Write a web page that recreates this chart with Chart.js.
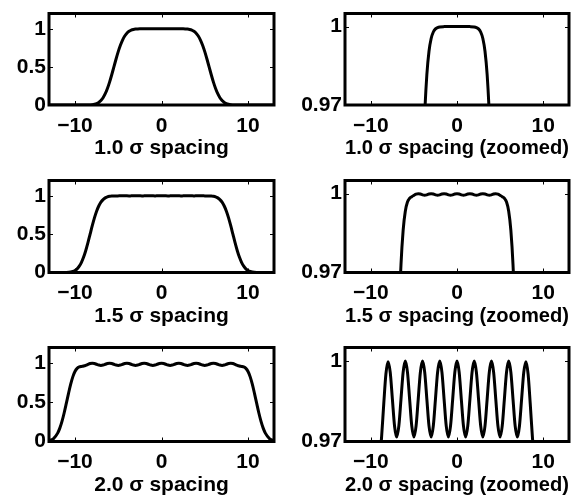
<!DOCTYPE html>
<html>
<head>
<meta charset="utf-8">
<script src="https://cdn.jsdelivr.net/npm/chart.js@4/dist/chart.umd.min.js"></script>
<style>
  html, body { margin: 0; padding: 0; background: #fff; }
  #wrap { position: relative; width: 579px; height: 498px; overflow: hidden; background: #fff; }
  #wrap canvas { position: absolute; }
</style>
</head>
<body>
<div id="wrap"></div>
<script>
// Sums of equal Gaussians placed 1.0, 1.5 and 2.0 sigma apart (peak scaled to 1),
// each shown in full (left) and with the plateau magnified (right).

const spacingTitles = ['1.0 \u03c3 spacing', '1.5 \u03c3 spacing', '2.0 \u03c3 spacing'];
const zoomSuffix = ' (zoomed)';

const xTicks = [-10, 0, 10];
const fullYTicks = [0, 0.5, 1];
const zoomYTicks = [0.97, 1];

// 1.0 sigma spacing
const spacing10X = [-13, -12, -11, -10, -9.5, -9, -8.5, -8, -7.75, -7.5, -7.25, -7, -6.75, -6.5, -6.25, -6,
  -5.75, -5.5, -5.25, -5, -4.75, -4.5, -4.25, -4, -3.75, -3.5, -3.25, -3, -2.75, -2.5, -2.25, -2, -1.5, -1, 0,
  1, 1.5, 2, 2.25, 2.5, 2.75, 3, 3.25, 3.5, 3.75, 4, 4.25, 4.5, 4.75, 5, 5.25, 5.5, 5.75, 6, 6.25, 6.5, 6.75,
  7, 7.25, 7.5, 7.75, 8, 8.5, 9, 9.5, 10, 11, 12, 13];
const spacing10Y = [0, 0, 0, 0, 0.00002, 0.00014, 0.00089, 0.00457, 0.00945, 0.01842, 0.03382, 0.05856, 0.09573,
  0.14793, 0.21647, 0.30053, 0.39687, 0.5, 0.60313, 0.69947, 0.78353, 0.85207, 0.90427, 0.94144, 0.96618, 0.98158,
  0.99055, 0.99543, 0.99792, 0.99911, 0.99964, 0.99986, 0.99998, 1, 1,
  1, 0.99998, 0.99986, 0.99964, 0.99911, 0.99792, 0.99543, 0.99055, 0.98158, 0.96618, 0.94144, 0.90427, 0.85207,
  0.78353, 0.69947, 0.60313, 0.5, 0.39687, 0.30053, 0.21647, 0.14793, 0.09573, 0.05856, 0.03382, 0.01842, 0.00945,
  0.00457, 0.00089, 0.00014, 0.00002, 0, 0, 0, 0];

// 1.5 sigma spacing
const spacing15X = [-13, -12, -11.5, -11, -10.5, -10.25, -10, -9.75, -9.5, -9.25, -9, -8.75, -8.5, -8.25, -8,
  -7.75, -7.5, -7.25, -7, -6.75, -6.5, -6.25, -6, -5.75, -5.5, -5.25, -5, -4.75, -4.5, -4.25, -4, -3.75, -3.5,
  -3.25, -3, -2.75, -2.5, -2.25, -2, -1.75, -1.5, -1.25, -1, -0.75, -0.5, -0.25,
  0, 0.25, 0.5, 0.75, 1, 1.25, 1.5, 1.75, 2, 2.25, 2.5, 2.75, 3, 3.25, 3.5, 3.75, 4, 4.25, 4.5, 4.75, 5, 5.25,
  5.5, 5.75, 6, 6.25, 6.5, 6.75, 7, 7.25, 7.5, 7.75, 8, 8.25, 8.5, 8.75, 9, 9.25, 9.5, 9.75, 10, 10.25, 10.5,
  11, 11.5, 12, 13];
const spacing15Y = [0, 0.00002, 0.0002, 0.00131, 0.00667, 0.01371, 0.02649, 0.04812, 0.08227, 0.13243, 0.20089,
  0.2876, 0.38933, 0.49969, 0.61021, 0.71225, 0.79911, 0.86742, 0.91726, 0.95126, 0.97305, 0.98614, 0.99333,
  0.9968, 0.99823, 0.99885, 0.99934, 0.99978, 0.99998, 0.99984, 0.99953, 0.99938, 0.99954, 0.99985, 1, 0.99985,
  0.99954, 0.99938, 0.99954, 0.99985, 1, 0.99985, 0.99954, 0.99938, 0.99954, 0.99985,
  1, 0.99985, 0.99954, 0.99938, 0.99954, 0.99985, 1, 0.99985, 0.99954, 0.99938, 0.99954, 0.99985, 1, 0.99985,
  0.99954, 0.99938, 0.99953, 0.99984, 0.99998, 0.99978, 0.99934, 0.99885, 0.99823, 0.9968, 0.99333, 0.98614,
  0.97305, 0.95126, 0.91726, 0.86742, 0.79911, 0.71225, 0.61021, 0.49969, 0.38933, 0.2876, 0.20089, 0.13243,
  0.08227, 0.04812, 0.02649, 0.01371, 0.00667, 0.00131, 0.0002, 0.00002, 0];

// 2.0 sigma spacing
const spacing20X = [-13, -12.5, -12, -11.75, -11.5, -11.25, -11, -10.75, -10.5, -10.25,
  -10, -9.75, -9.5, -9.25, -9, -8.75, -8.5, -8.25, -8, -7.75, -7.5, -7.25, -7, -6.75, -6.5, -6.25, -6, -5.75,
  -5.5, -5.25, -5, -4.75, -4.5, -4.25, -4, -3.75, -3.5, -3.25, -3, -2.75, -2.5, -2.25, -2, -1.75, -1.5, -1.25,
  -1, -0.75, -0.5, -0.25,
  0, 0.25, 0.5, 0.75, 1, 1.25, 1.5, 1.75, 2, 2.25, 2.5, 2.75, 3, 3.25, 3.5, 3.75, 4, 4.25, 4.5, 4.75, 5, 5.25,
  5.5, 5.75, 6, 6.25, 6.5, 6.75, 7, 7.25, 7.5, 7.75, 8, 8.25, 8.5, 8.75, 9, 9.25, 9.5, 9.75, 10,
  10.25, 10.5, 10.75, 11, 11.25, 11.5, 11.75, 12, 12.5, 13];
const spacing20Y = [0.00874, 0.03459, 0.10671, 0.1708, 0.25708, 0.36412, 0.48582, 0.61167, 0.72874, 0.82504,
  0.89329, 0.93317, 0.95123, 0.95785, 0.9629, 0.97179, 0.9841, 0.99515, 0.99973, 0.99575, 0.98579, 0.97578,
  0.97164, 0.97579, 0.98582, 0.99585, 1, 0.99585, 0.98582, 0.97579, 0.97164, 0.97579, 0.98582, 0.99585, 1,
  0.99585, 0.98582, 0.97579, 0.97164, 0.97579, 0.98582, 0.99585, 1, 0.99585, 0.98582, 0.97579, 0.97164, 0.97579,
  0.98582, 0.99585,
  1, 0.99585, 0.98582, 0.97579, 0.97164, 0.97579, 0.98582, 0.99585, 1, 0.99585, 0.98582, 0.97579, 0.97164,
  0.97579, 0.98582, 0.99585, 1, 0.99585, 0.98582, 0.97579, 0.97164, 0.97579, 0.98582, 0.99585, 1, 0.99585,
  0.98582, 0.97579, 0.97164, 0.97578, 0.98579, 0.99575, 0.99973, 0.99515, 0.9841, 0.97179, 0.9629, 0.95785,
  0.95123, 0.93317, 0.89329,
  0.82504, 0.72874, 0.61167, 0.48582, 0.36412, 0.25708, 0.1708, 0.10671, 0.03459, 0.00874];

const curves = [
  { x: spacing10X, y: spacing10Y },
  { x: spacing15X, y: spacing15Y },
  { x: spacing20X, y: spacing20Y }
];

// ---- layout (page pixels) ----
const columns = [
  { left: 0, width: 290, boxLeft: 49, boxRight: 274, yMin: 0, yMax: 1.2, yTicks: fullYTicks, zoom: false },
  { left: 290, width: 289, boxLeft: 345, boxRight: 569, yMin: 0.97, yMax: 1.005, yTicks: zoomYTicks, zoom: true }
];
const rows = [
  { top: 0, height: 167, boxTop: 11, boxBottom: 105 },
  { top: 167, height: 167, boxTop: 178, boxBottom: 272.5 },
  { top: 334, height: 164, boxTop: 345.5, boxBottom: 441.5 }
];
const AXIS_BAND = 54;        // x tick labels + caption under each box
const FONT_FAMILY = '"Liberation Sans", Arial, Helvetica, sans-serif';
const textFont = { family: FONT_FAMILY, size: 21, weight: 'bold', lineHeight: 1 };

const fmtTick = v => (v < 0 ? '\u2212' + Math.abs(v) : String(v));

// Closed frame with short inward tick marks on all four sides
const framePlugin = {
  id: 'frame',
  afterDraw(chart) {
    const { ctx, chartArea: a, scales } = chart;
    ctx.save();
    ctx.strokeStyle = '#000';
    ctx.lineWidth = 1;
    const len = 4;
    ctx.beginPath();
    scales.x.ticks.forEach(t => {
      const px = Math.round(scales.x.getPixelForValue(t.value)) + 0.5;
      ctx.moveTo(px, a.bottom); ctx.lineTo(px, a.bottom - len);
      ctx.moveTo(px, a.top); ctx.lineTo(px, a.top + len);
    });
    scales.y.ticks.forEach(t => {
      const py = Math.round(scales.y.getPixelForValue(t.value)) + 0.5;
      ctx.moveTo(a.left, py); ctx.lineTo(a.left + len, py);
      ctx.moveTo(a.right, py); ctx.lineTo(a.right - len, py);
    });
    ctx.stroke();
    ctx.lineWidth = 3;
    ctx.strokeRect(a.left, a.top, a.right - a.left, a.bottom - a.top);
    ctx.restore();
  }
};

const wrap = document.getElementById('wrap');

rows.forEach((row, r) => {
  columns.forEach(col => {
    const canvas = document.createElement('canvas');
    canvas.width = col.width;
    canvas.height = row.height;
    canvas.style.left = col.left + 'px';
    canvas.style.top = row.top + 'px';
    canvas.style.width = col.width + 'px';
    canvas.style.height = row.height + 'px';
    wrap.appendChild(canvas);

    const curve = curves[r];
    const points = curve.x.map((x, i) => ({ x, y: curve.y[i] }));
    const localBottom = row.boxBottom - row.top;

    new Chart(canvas, {
      type: 'line',
      data: {
        datasets: [{
          data: points,
          borderColor: '#000',
          borderWidth: 3,
          pointRadius: 0,
          fill: false,
          cubicInterpolationMode: 'monotone'
        }]
      },
      options: {
        responsive: false,
        animation: false,
        devicePixelRatio: 1,
        events: [],
        layout: {
          padding: {
            left: 0,
            top: row.boxTop - row.top,
            right: col.left + col.width - col.boxRight,
            bottom: row.height - localBottom - AXIS_BAND
          }
        },
        plugins: { legend: { display: false }, tooltip: { enabled: false } },
        scales: {
          x: {
            type: 'linear',
            min: -13,
            max: 13,
            grid: { display: false, drawTicks: false },
            border: { display: false },
            afterBuildTicks: s => { s.ticks = xTicks.map(v => ({ value: v })); },
            afterFit: s => { s.height = AXIS_BAND; },
            ticks: {
              color: '#000', font: textFont, padding: 10.5,
              maxRotation: 0, autoSkip: false, callback: fmtTick
            },
            title: {
              display: true,
              text: spacingTitles[r] + (col.zoom ? zoomSuffix : ''),
              color: '#000',
              font: textFont,
              padding: { top: 0, bottom: 0 }
            }
          },
          y: {
            type: 'linear',
            min: col.yMin,
            max: col.yMax,
            grid: { display: false, drawTicks: false },
            border: { display: false },
            afterBuildTicks: s => { s.ticks = col.yTicks.map(v => ({ value: v })); },
            afterFit: s => { s.width = col.boxLeft - col.left; },
            ticks: {
              color: '#000', font: textFont, padding: 3,
              autoSkip: false, callback: fmtTick
            }
          }
        }
      },
      plugins: [framePlugin]
    });
  });
});
</script>
</body>
</html>
